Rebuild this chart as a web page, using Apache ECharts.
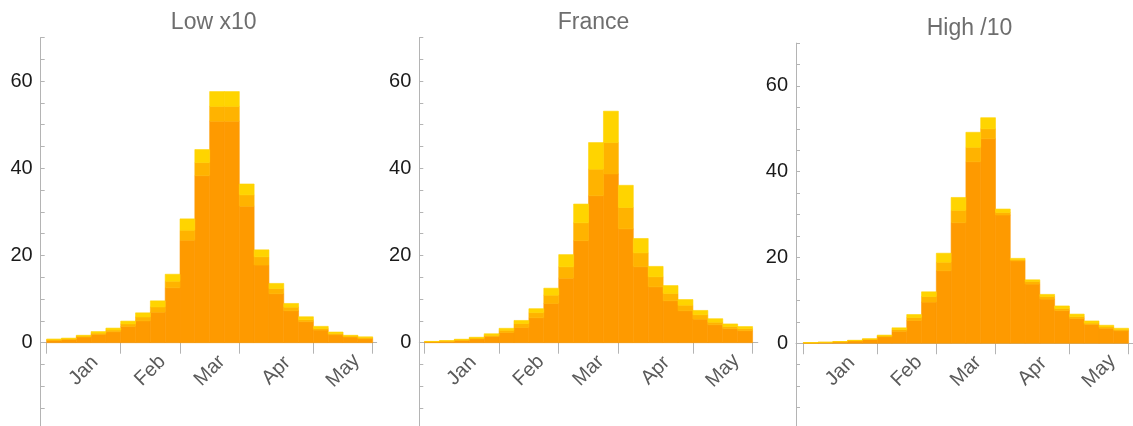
<!DOCTYPE html>
<html>
<head>
<meta charset="utf-8">
<script src="https://cdn.jsdelivr.net/npm/echarts@6/dist/echarts.min.js"></script>
<style>
  html, body { margin: 0; padding: 0; background: #ffffff; }
  #chart { width: 1133px; height: 426px; }
</style>
</head>
<body>
<div id="chart"></div>
<script>
// Weekly bins from the start of January to the end of May (22 bins).
const monthLabels = ['Jan', 'Feb', 'Mar', 'Apr', 'May'];
// Month boundaries expressed as bin indices.
const monthEdges = [0, 5, 9, 13, 18, 22];
const yLabelValues = [0, 20, 40, 60];

const panelTitles = ['Low x10', 'France', 'High /10'];

// Each panel is a stack of three layers: base, middle, top.
const lowBase = [0.5, 0.75, 1.3, 1.9, 2.5, 3.7, 5.0, 7.0, 12.6, 23.5, 38.3, 50.8, 50.8, 31.3, 17.8, 11.2, 7.3, 4.8, 2.9, 1.8, 1.3, 0.9];
const lowMid  = [0.2, 0.15, 0.2, 0.3, 0.4, 0.6, 0.9, 1.2, 1.5, 2.3, 3.0, 3.4, 3.4, 2.6, 1.9, 1.2, 0.85, 0.45, 0.35, 0.3, 0.2, 0.25];
const lowTop  = [0.15, 0.15, 0.2, 0.35, 0.45, 0.65, 0.95, 1.4, 1.6, 2.6, 3.0, 3.4, 3.4, 2.5, 1.6, 1.2, 0.85, 0.7, 0.5, 0.35, 0.2, 0.2];

const franceBase = [0.2, 0.3, 0.55, 0.85, 1.4, 2.35, 3.5, 5.7, 9.0, 14.8, 23.4, 33.7, 38.7, 26.1, 17.4, 12.8, 9.6, 7.3, 5.4, 4.1, 3.2, 2.75];
const franceMid  = [0.05, 0.1, 0.1, 0.2, 0.3, 0.5, 0.9, 1.2, 1.9, 2.6, 4.1, 6.1, 7.2, 4.9, 3.2, 2.3, 1.7, 1.3, 1.0, 0.6, 0.5, 0.45];
const franceTop  = [0.05, 0.05, 0.15, 0.2, 0.35, 0.45, 0.7, 0.9, 1.6, 2.8, 4.3, 6.1, 7.2, 5.1, 3.3, 2.4, 1.8, 1.3, 1.0, 0.8, 0.6, 0.5];

const highBase = [0.1, 0.18, 0.3, 0.55, 0.85, 1.5, 2.8, 5.3, 9.6, 16.9, 28.1, 42.3, 47.7, 29.9, 19.2, 13.8, 10.3, 7.6, 5.75, 4.35, 3.5, 2.9];
const highMid  = [0.02, 0.04, 0.05, 0.07, 0.1, 0.2, 0.4, 0.7, 1.3, 2.0, 2.9, 3.4, 2.3, 0.6, 0.3, 0.6, 0.6, 0.5, 0.45, 0.35, 0.3, 0.3];
const highTop  = [0.03, 0.03, 0.05, 0.08, 0.1, 0.2, 0.4, 0.7, 1.1, 2.1, 3.0, 3.5, 2.6, 0.8, 0.3, 0.4, 0.5, 0.6, 0.6, 0.5, 0.4, 0.3];

const panelLayers = [
  [lowBase, lowMid, lowTop],
  [franceBase, franceMid, franceTop],
  [highBase, highMid, highTop]
];

const layerColors = ['#FE9A00', '#FFB300', '#FFD400'];

// Plot frames: pixel box, pixels per y unit, and x extent in bin units.
const frames = [
  { left: 40.7, top: 37.5, width: 336.0, unit: 4.36, xMin: -0.4, xMax: 22.27 },
  { left: 419.3, top: 37.5, width: 338.5, unit: 4.36, xMin: -0.35, xMax: 22.35 },
  { left: 796.0, top: 43.1, width: 337.0, unit: 4.288, xMin: -0.49, xMax: 22.3 }
];
const yTop = 70, yBottom = -20;

const labelCenters = monthEdges.slice(0, -1).map((e, i) => (e + monthEdges[i + 1]) / 2);
const upperTicks = [], lowerTicks = [];
for (let v = 5; v <= yTop; v += 5) upperTicks.push(v);
for (let v = yBottom; v < 0; v += 5) lowerTicks.push(v);

const chart = echarts.init(document.getElementById('chart'), null, { renderer: 'canvas' });

const grids = [], xAxes = [], yAxes = [], series = [], titles = [];
const axisGray = '#b4b4b4';

frames.forEach((f, p) => {
  const hUp = yTop * f.unit;
  const hLow = -yBottom * f.unit;
  const gUp = grids.length;
  grids.push({ left: f.left, top: f.top, width: f.width, height: hUp, containLabel: false, outerBoundsMode: 'none' });
  const gLow = grids.length;
  grids.push({ left: f.left, top: f.top + hUp, width: f.width, height: hLow, containLabel: false, outerBoundsMode: 'none' });

  titles.push({
    text: panelTitles[p],
    left: f.left + f.width / 2,
    top: f.top - 31,
    textAlign: 'center',
    textStyle: { fontFamily: 'Liberation Sans', fontSize: 23, fontWeight: 'normal', color: '#6e6e6e' }
  });

  // Upper part: bins, month ticks and value labels.
  const xUp = xAxes.length;
  xAxes.push({
    type: 'value', gridIndex: gUp, min: f.xMin, max: f.xMax, position: 'bottom',
    splitLine: { show: false },
    axisLine: { show: true, onZero: false, lineStyle: { color: axisGray, width: 1 } },
    axisTick: { show: true, inside: false, length: 11, customValues: monthEdges, lineStyle: { color: axisGray } },
    axisLabel: {
      show: true, customValues: labelCenters, rotate: 45,
      align: 'center', verticalAlign: 'middle', margin: 28,
      fontFamily: 'Liberation Sans', fontSize: 20, color: '#5a5a5a',
      formatter: (v) => {
        const i = labelCenters.findIndex(c => Math.abs(c - v) < 1e-6);
        return i >= 0 ? monthLabels[i] : '';
      }
    }
  });
  const yUp = yAxes.length;
  yAxes.push({
    type: 'value', gridIndex: gUp, min: 0, max: yTop,
    splitLine: { show: false },
    axisLine: { show: true, onZero: false, lineStyle: { color: axisGray, width: 1 } },
    axisTick: { show: true, inside: true, length: 4, customValues: upperTicks, lineStyle: { color: axisGray } },
    axisLabel: {
      show: true, customValues: yLabelValues, margin: 8,
      fontFamily: 'Liberation Sans', fontSize: 20, color: '#1a1a1a'
    }
  });

  // Lower part: the value axis continues below zero.
  xAxes.push({
    type: 'value', gridIndex: gLow, min: f.xMin, max: f.xMax, show: false
  });
  yAxes.push({
    type: 'value', gridIndex: gLow, min: yBottom, max: 0,
    splitLine: { show: false },
    axisLine: { show: true, onZero: false, lineStyle: { color: axisGray, width: 1 } },
    axisTick: { show: true, inside: true, length: 4, customValues: lowerTicks, lineStyle: { color: axisGray } },
    axisLabel: { show: false }
  });

  // Stack the three layers bin by bin.
  const layers = panelLayers[p];
  const running = layers[0].map(() => 0);
  layers.forEach((layer, k) => {
    const data = layer.map((v, i) => {
      const lo = running[i];
      running[i] = lo + v;
      return [i, lo, running[i]];
    });
    series.push({
      type: 'custom',
      xAxisIndex: xUp, yAxisIndex: yUp,
      encode: { x: 0, y: [1, 2] },
      data: data,
      silent: true,
      z: 2,
      renderItem: (params, api) => {
        const i = api.value(0);
        const p0 = api.coord([i, api.value(1)]);
        const p1 = api.coord([i + 1, api.value(2)]);
        return {
          type: 'rect',
          shape: { x: p0[0], y: p1[1], width: p1[0] - p0[0], height: p0[1] - p1[1] },
          style: { fill: layerColors[k], stroke: layerColors[k], lineWidth: 0.6 }
        };
      }
    });
  });
});

chart.setOption({
  animation: false,
  backgroundColor: '#ffffff',
  title: titles,
  grid: grids,
  xAxis: xAxes,
  yAxis: yAxes,
  series: series
});
</script>
</body>
</html>
